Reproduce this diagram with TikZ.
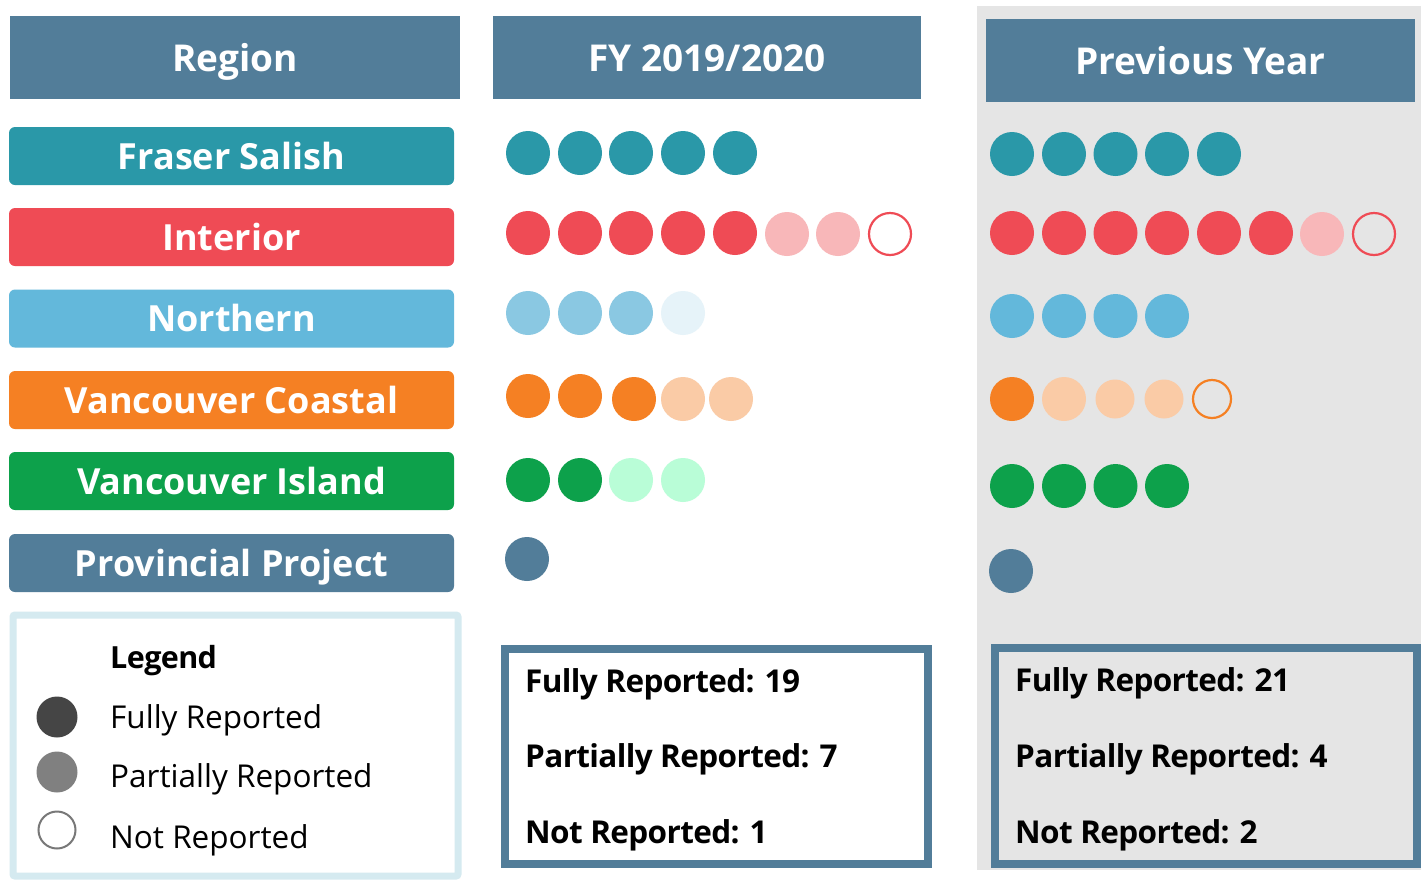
\documentclass[tikz,border=0pt]{standalone}
\usepackage{fontspec}
\setmainfont{Open Sans}
\newfontfamily\sumfont{Open Sans}[LetterSpace=-2]
\definecolor{hdrblue}{HTML}{527D99}
\definecolor{teal}{HTML}{2A98A8}
\definecolor{ired}{HTML}{EF4B55}
\definecolor{ipink}{HTML}{F8B7B9}
\definecolor{nblue}{HTML}{63B8DB}
\definecolor{nbluefy}{HTML}{8AC8E2}
\definecolor{nlight}{HTML}{E6F3F9}
\definecolor{vorange}{HTML}{F58023}
\definecolor{vlight}{HTML}{FACBA6}
\definecolor{igreen}{HTML}{0DA14B}
\definecolor{glight}{HTML}{B9FDD7}
\definecolor{panelgrey}{HTML}{E5E5E5}
\definecolor{legborder}{HTML}{D5EAF0}
\begin{document}
\begin{tikzpicture}[x=1pt,y=-1pt,
  hdr/.style={fill=hdrblue, draw=none, minimum height=83pt, text=white, inner sep=0pt,
    font=\fontsize{37}{44}\selectfont\bfseries, text height=27pt, text depth=0pt},
  rowbox/.style={fill=#1, draw=none, rounded corners=6pt, minimum width=445pt, minimum height=58pt,
    text=white, inner sep=0pt, font=\fontsize{36}{43}\selectfont\bfseries, text height=26pt, text depth=0pt},
  dot/.style={circle, fill=#1, draw=none, minimum size=44pt, inner sep=0pt},
  sdot/.style={circle, fill=#1, draw=none, minimum size=39pt, inner sep=0pt},
  odot/.style={circle, fill=none, draw=#1, line width=2.2pt, minimum size=42pt, inner sep=0pt},
  legtxt/.style={anchor=base west, inner sep=0pt, font=\fontsize{31.5}{37}\selectfont},
  sumtxt/.style={anchor=base west, inner sep=0pt, font=\fontsize{31.5}{38}\selectfont\sumfont\bfseries},
]
\useasboundingbox (0,0) rectangle (1421,879);
\fill[white] (0,0) rectangle (1421,879);
% grey panel
\fill[panelgrey] (977,6) rectangle (1421,870);

% headers
\node[hdr, minimum width=450pt] (hregion) at (235,57.5) {Region};
\node[hdr, minimum width=428pt] (hfy) at (707,57.5) {FY 2019/2020};
\node[hdr, minimum width=429pt] (hprev) at (1200.5,60.5) {Previous Year};

% region rows
\node[rowbox=teal] (rfraser) at (231.5,156) {Fraser Salish};
\node[rowbox=ired] (rinterior) at (231.5,237) {Interior};
\node[rowbox=nblue] (rnorthern) at (231.5,318.5) {Northern};
\node[rowbox=vorange] (rvc) at (231.5,400) {Vancouver Coastal};
\node[rowbox=igreen] (rvi) at (231.5,481) {Vancouver Island};
\node[rowbox=hdrblue] (rpp) at (231.5,563) {Provincial Project};

% FY dots
\foreach \x [count=\i] in {528,580,631,683,735}
  \node[dot=teal] (fyf\i) at (\x,153) {};
\foreach \x [count=\i] in {528,580,631,683,735}
  \node[dot=ired] (fyi\i) at (\x,233) {};
\node[dot=ipink] (fyi6) at (787,234) {};
\node[dot=ipink] (fyi7) at (838,234) {};
\node[odot=ired] (fyi8) at (890,234) {};
\foreach \x [count=\i] in {528,580,631}
  \node[dot=nbluefy] (fyn\i) at (\x,313) {};
\node[dot=nlight] (fyn4) at (683,313) {};
\node[dot=vorange] (fyv1) at (528,396) {};
\node[dot=vorange] (fyv2) at (580,396) {};
\node[dot=vorange] (fyv3) at (634,399) {};
\node[dot=vlight] (fyv4) at (683,399) {};
\node[dot=vlight] (fyv5) at (731,399) {};
\node[dot=igreen] (fyg1) at (528,480) {};
\node[dot=igreen] (fyg2) at (580,480) {};
\node[dot=glight] (fyg3) at (631,480) {};
\node[dot=glight] (fyg4) at (683,480) {};
\node[dot=hdrblue] (fyp1) at (527,559) {};

% Previous year dots
\foreach \x [count=\i] in {1012,1064,1115.5,1167,1219}
  \node[dot=teal] (pyf\i) at (\x,154) {};
\foreach \x [count=\i] in {1012,1064,1115.5,1167,1219,1271}
  \node[dot=ired] (pyi\i) at (\x,233) {};
\node[dot=ipink] (pyi7) at (1322,234) {};
\node[odot=ired] (pyi8) at (1374,234) {};
\foreach \x [count=\i] in {1012,1064,1115.5,1167}
  \node[dot=nblue] (pyn\i) at (\x,316) {};
\node[dot=vorange] (pyv1) at (1012,399) {};
\node[dot=vlight] (pyv2) at (1064,399) {};
\node[sdot=vlight] (pyv3) at (1115,399) {};
\node[sdot=vlight] (pyv4) at (1164,399) {};
\node[odot=vorange, minimum size=38pt] (pyv5) at (1212,399) {};
\foreach \x [count=\i] in {1012,1064,1115.5,1167}
  \node[dot=igreen] (pyg\i) at (\x,486) {};
\node[dot=hdrblue] (pyp1) at (1011,571) {};

% legend
\draw[legborder, line width=7pt, rounded corners=2pt] (13,615) rectangle (458,876);
\node[anchor=base west, inner sep=0pt, font=\fontsize{30.5}{37}\selectfont\sumfont\bfseries] (legtitle) at (110,668) {Legend};
\node[circle, fill=black!73, minimum size=41pt, inner sep=0pt] (legfull) at (57,717) {};
\node[circle, fill=black!50, minimum size=41pt, inner sep=0pt] (legpart) at (57,772) {};
\node[circle, fill=white, draw=black!53, line width=2pt, minimum size=37pt, inner sep=0pt] (legnot) at (57,830) {};
\node[legtxt] (lt1) at (110,728) {Fully Reported};
\node[legtxt] (lt2) at (110,787) {Partially Reported};
\node[legtxt] (lt3) at (110,848) {Not Reported};

% summary FY
\draw[hdrblue, line width=8pt, fill=white] (505,648.5) rectangle (928,864);
\node[sumtxt] (sfy1) at (525,692) {Fully Reported: 19};
\node[sumtxt] (sfy2) at (525,767) {Partially Reported: 7};
\node[sumtxt] (sfy3) at (525,843) {Not Reported: 1};

% summary previous
\draw[hdrblue, line width=8pt] (995,647.5) rectangle (1417,864);
\node[sumtxt] (spy1) at (1015,691) {Fully Reported: 21};
\node[sumtxt] (spy2) at (1015,767) {Partially Reported: 4};
\node[sumtxt] (spy3) at (1015,843) {Not Reported: 2};
\end{tikzpicture}
\end{document}
